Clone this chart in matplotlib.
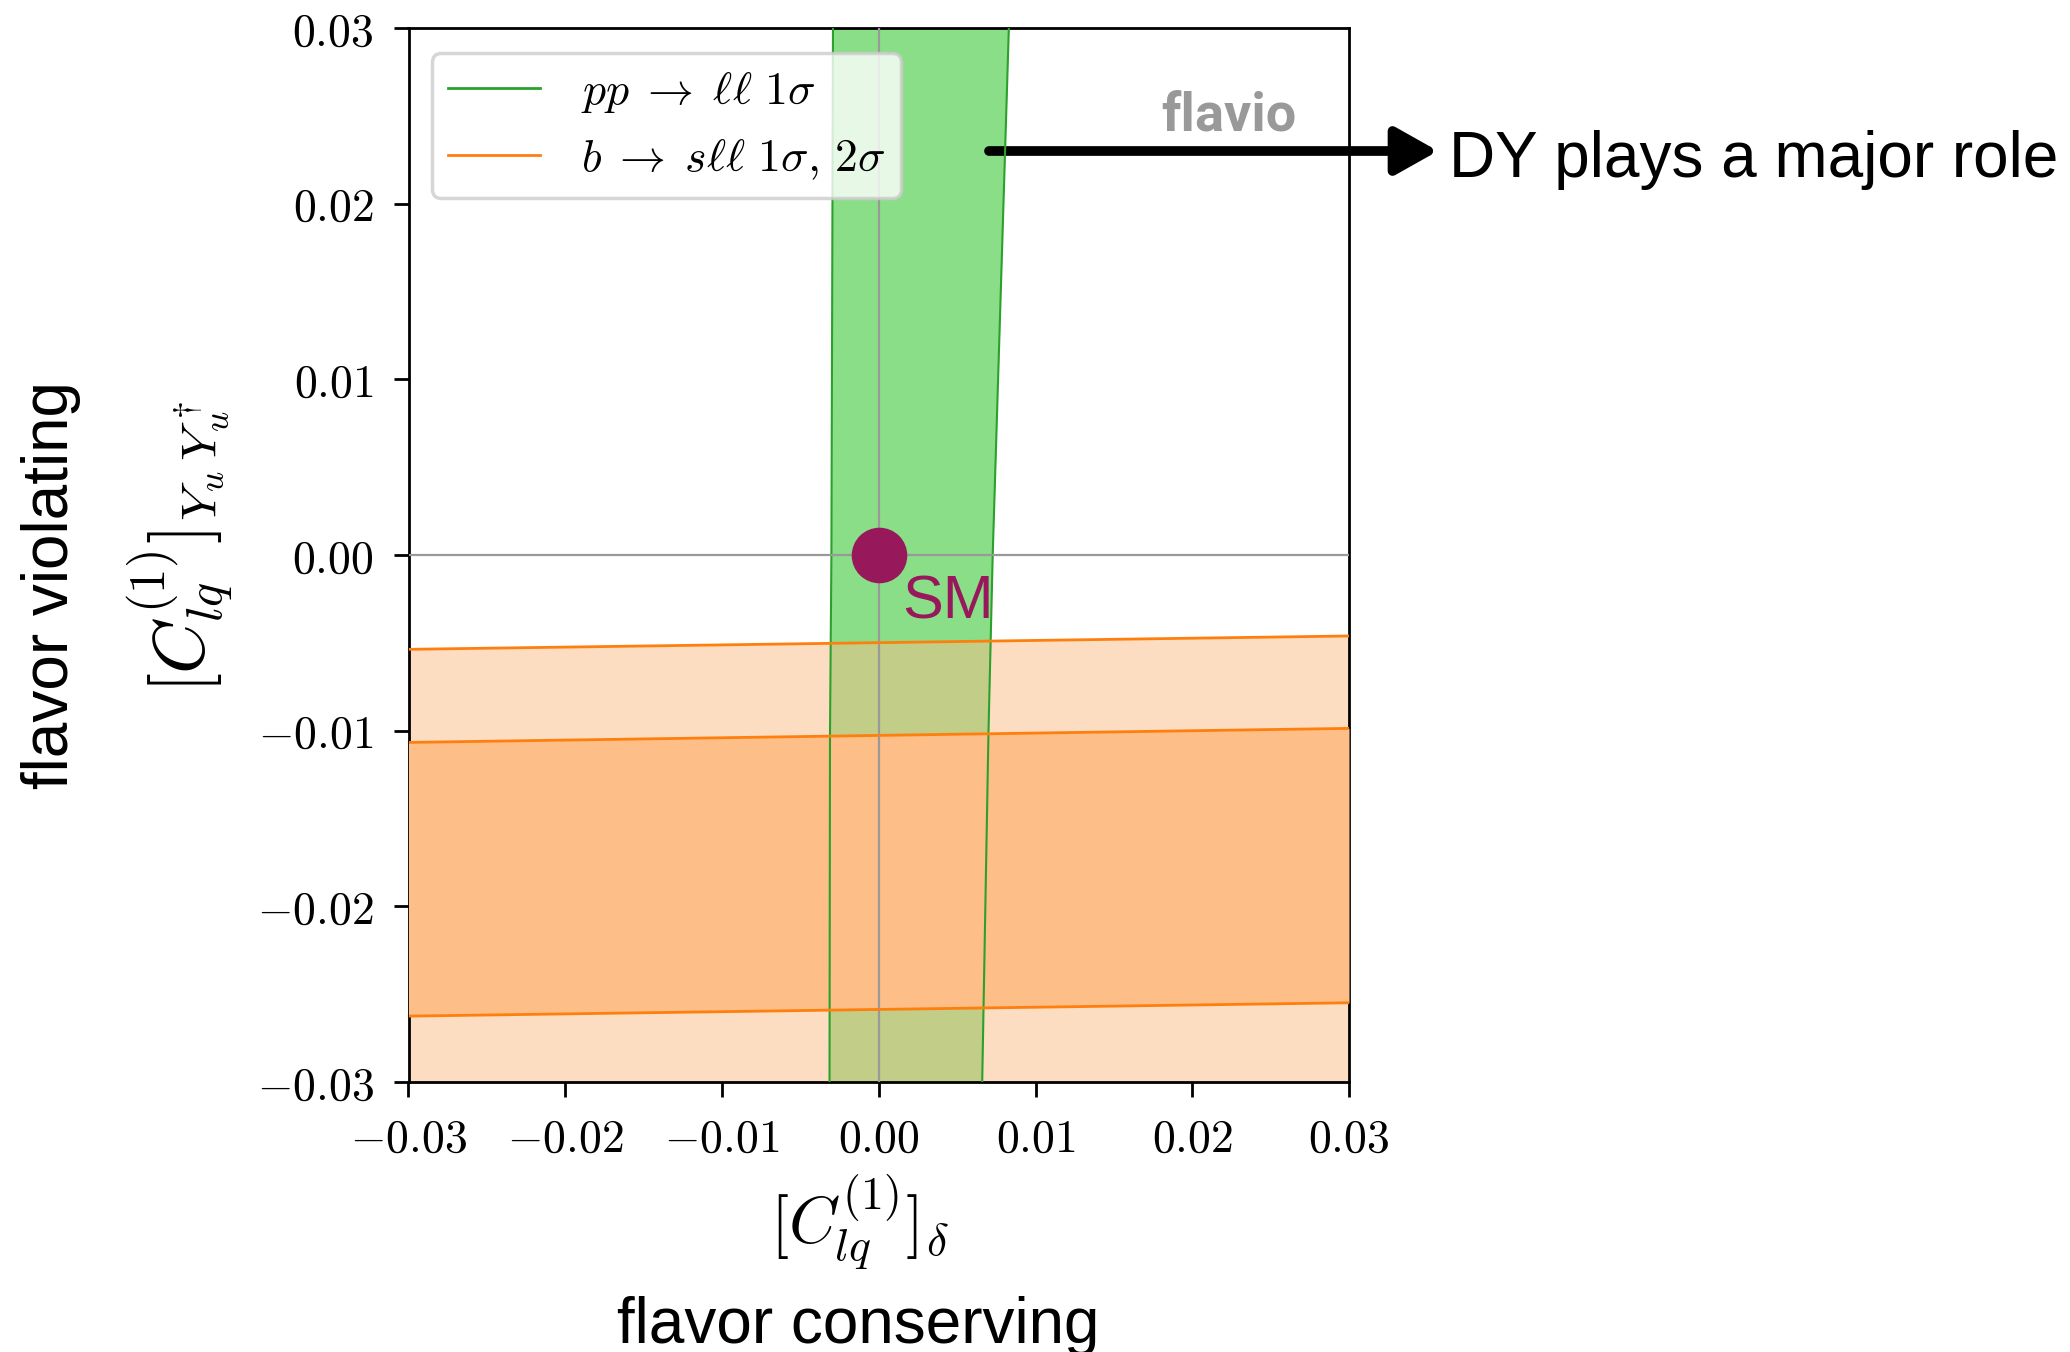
import numpy as np
import matplotlib
matplotlib.use('Agg')
import matplotlib.pyplot as plt
from matplotlib.lines import Line2D

plt.rcParams['mathtext.fontset'] = 'cm'

# axis ticks (same on both axes)
ticks = [-0.03, -0.02, -0.01, 0.0, 0.01, 0.02, 0.03]
tick_labels = [r'$-0.03$', r'$-0.02$', r'$-0.01$', r'$0.00$', r'$0.01$', r'$0.02$', r'$0.03$']
lims = (-0.03, 0.03)

dy_y = [-0.03, -0.0101, 0.0, 0.03]
dy_left = [-0.00314, -0.00311, -0.00302, -0.00292]
dy_right = [0.0066, 0.0070, 0.00727, 0.0083]

# b -> sll bands, boundaries at the left and right edge of the plot
bsll_x = [-0.03, 0.03]
bsll_2s_upper = [-0.00537, -0.00461]
bsll_1s_upper = [-0.01067, -0.00987]
bsll_1s_lower = [-0.02625, -0.02549]

# SM point
sm_x, sm_y = 0.0, 0.0

sans = ['Liberation Sans', 'DejaVu Sans']

fig = plt.figure(figsize=(20.7, 13.52), dpi=100)
ax = fig.add_axes([408.5 / 2070, 1 - 1082 / 1352, 940.5 / 2070, 1054 / 1352])

# green DY band
ax.fill_betweenx(dy_y, dy_left, dy_right, color='#8ade87', lw=0, zorder=1)

# orange b->sll bands
ax.fill_between(bsll_x, lims[0], bsll_2s_upper, color=(251/255, 189/255, 135/255), alpha=0.5, lw=0, zorder=2)
ax.fill_between(bsll_x, bsll_1s_lower, bsll_1s_upper, color='#fdbe87', lw=0, zorder=3)

ax.plot(dy_left, dy_y, color='#2ca02c', lw=1.5, zorder=4)
ax.plot(dy_right, dy_y, color='#2ca02c', lw=1.5, zorder=4)
for b in (bsll_2s_upper, bsll_1s_upper, bsll_1s_lower):
    ax.plot(bsll_x, b, color='#ff7f0e', lw=2, zorder=5)

# zero lines
ax.axhline(0, color='#999999', lw=1.6, zorder=4.5)
ax.axvline(0, color='#999999', lw=1.6, zorder=4.5)

# SM point
ax.plot([sm_x], [sm_y], 'o', ms=39, color='#98185c', zorder=10)
ax.text(0.00148, -0.00359, 'SM', color='#98185c', fontsize=44, family=sans,
        va='baseline', ha='left', zorder=10)

ax.text(0.944, 0.903, 'flavio', transform=ax.transAxes, ha='right', va='baseline',
        fontsize=39, fontweight='bold', color='#999999', family=['Roboto', 'DejaVu Sans'])

ax.set_xlim(lims)
ax.set_ylim(lims)
ax.set_xticks(ticks)
ax.set_xticklabels(tick_labels)
ax.set_yticks(ticks)
ax.set_yticklabels(tick_labels)
ax.tick_params(labelsize=33, length=11, width=2, pad=14)
for s in ax.spines.values():
    s.set_linewidth(2)

ax.set_xlabel(r'$[C_{lq}^{(1)}]_\delta$', fontsize=47, labelpad=8)
ax.xaxis.label.set_x(0.48)
ax.set_ylabel(r'$[C_{lq}^{(1)}]_{Y_u\,Y_u^\dagger}$', fontsize=52, labelpad=16)
ax.yaxis.label.set_y(0.507)

handles = [Line2D([], [], color='#2ca02c', lw=2), Line2D([], [], color='#ff7f0e', lw=2)]
labels = [r'$pp \;\to\; \ell\ell\ 1\sigma$', r'$b \;\to\; s\ell\ell\ 1\sigma,\, 2\sigma$']
leg = ax.legend(handles, labels, loc='upper left', bbox_to_anchor=(0.025, 0.976),
                borderaxespad=0, fontsize=33, handlelength=2.0, handletextpad=0.9,
                labelspacing=0.45, borderpad=0.35, fancybox=True, framealpha=0.8)
leg.get_frame().set_linewidth(2.5)
leg.set_zorder(20)

# arrow + annotation texts
ax.annotate('', xy=(1438 / 2070, 1 - 151 / 1352), xytext=(989 / 2070, 1 - 151 / 1352),
            xycoords='figure fraction', textcoords='figure fraction', annotation_clip=False,
            arrowprops=dict(arrowstyle='-|>,head_length=0.8,head_width=0.45', lw=7, color='k',
                            mutation_scale=32, shrinkA=0, shrinkB=0))
fig.text(1449 / 2070, 1 - 177 / 1352, 'DY plays a major role', fontsize=46, family=sans,
         va='baseline', ha='left')
fig.text(858 / 2070, 1 - 1343 / 1352, 'flavor conserving', fontsize=46, family=sans,
         va='baseline', ha='center')
fig.text(51 / 2070, 1 - 585 / 1352, 'flavor violating', fontsize=46, family=sans,
         va='center', ha='center', rotation=90)

fig.savefig('out.png', dpi=100)
